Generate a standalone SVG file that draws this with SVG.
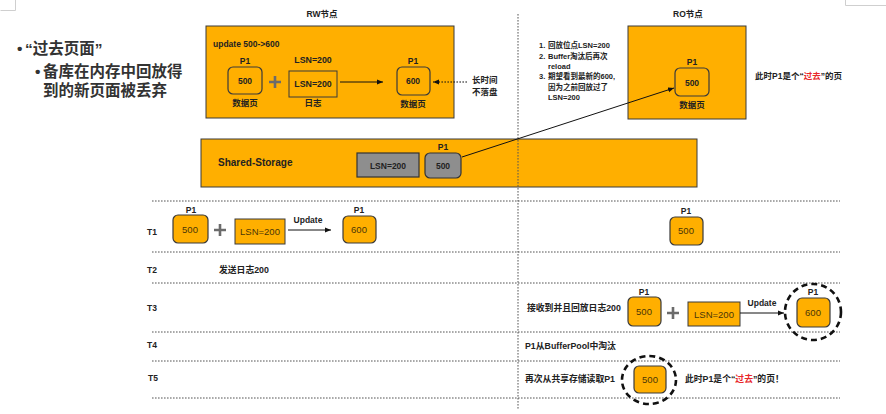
<svg xmlns="http://www.w3.org/2000/svg" width="886" height="414" viewBox="0 0 886 414">
<style>
text{font-family:"Liberation Sans","Noto Sans CJK SC",sans-serif;fill:#222;}
.b{font-weight:bold;}
.c{text-anchor:middle;}
.s8{font-size:8.5px;}
.s9{font-size:8.8px;}
.big{font-size:15.5px;font-weight:bold;fill:#333;}
.red{fill:#e8282b;}
.val{font-size:9.5px;fill:#4a3608;}
.box{fill:#FFAF00;stroke:#3a3a3a;stroke-width:1;}
.pg{fill:#FFAF00;stroke:#3a3a3a;stroke-width:1.2;}
.gray{fill:#8e8e8e;stroke:#333;stroke-width:1.2;}
.plus{stroke:#6b6b6b;stroke-width:2.6;fill:none;}
.arrow{stroke:#111;stroke-width:1;fill:none;marker-end:url(#arr);}
.dot{stroke:#555;stroke-width:1;stroke-dasharray:1.6 1.4;fill:none;}
.ring{stroke:#111;stroke-width:2.6;stroke-dasharray:6 4;fill:none;}
</style>
<defs>
<marker id="arr" viewBox="0 0 10 10" refX="10" refY="5" markerWidth="6" markerHeight="6" orient="auto"><path d="M0,1 L10,5 L0,9 z" fill="#111"/></marker>
</defs>
<rect x="0" y="0" width="886" height="414" fill="#fff"/>
<g id="frame-artifacts" fill="none" stroke="#cfcfcf" stroke-width="1">
<path d="M0.5,10.5 H15.5 V0"/>
<path d="M845.5,0 V5.5 H886"/>
</g>

<g id="bullets">
<text class="big" x="17" y="54" font-size="10">•</text>
<text class="big" x="25" y="54">“过去页面”</text>
<text class="big" x="35" y="77" font-size="10">•</text>
<text class="big" x="43" y="77">备库在内存中回放得</text>
<text class="big" x="43" y="96">到的新页面被丢弃</text>
</g>

<g id="rw-node">
<text class="b s8 c" x="322" y="17">RW节点</text>
<rect class="box" x="206" y="26" width="248" height="92"/>
<text class="b s8" x="213" y="47">update 500-&gt;600</text>
</g>
<g id="rw-page500">
<text class="b s8 c" x="245" y="64">P1</text>
<rect class="pg" x="228" y="67" width="34" height="27" rx="5"/>
<text class="b s8 c" x="245" y="84">500</text>
<text class="b s8 c" x="245" y="106">数据页</text>
</g>
<path class="plus" d="M269,82 H281 M275,76 V88"/>
<g id="rw-log">
<text class="b s9 c" x="313" y="63">LSN=200</text>
<rect class="box" x="289" y="71" width="48" height="26"/>
<text class="b s9 c" x="313" y="87">LSN=200</text>
<text class="b s8 c" x="313" y="106">日志</text>
</g>
<g id="rw-page600">
<text class="b s8 c" x="413" y="64">P1</text>
<rect class="pg" x="397" y="67" width="33" height="28" rx="5"/>
<text class="b s8 c" x="413" y="84">600</text>
<text class="b s8 c" x="413" y="107">数据页</text>
</g>
<g id="note-noflush">
<text class="b s8" x="472" y="83">长时间</text>
<text class="b s8" x="472" y="95">不落盘</text>
</g>

<g id="ro-node">
<text class="b s8 c" x="688" y="17">RO节点</text>
<rect class="box" x="628" y="26" width="118" height="93"/>
</g>
<g id="ro-page500">
<text class="b s8 c" x="692" y="65">P1</text>
<rect class="pg" x="675" y="68" width="34" height="28" rx="5"/>
<text class="b s8 c" x="692" y="86">500</text>
<text class="b s8 c" x="692" y="108">数据页</text>
</g>
<g id="ro-notes" font-size="7.5px">
<text class="b" x="539" y="48" font-size="7.5">1.</text>
<text class="b" x="548" y="48" font-size="7.5">回放位点LSN=200</text>
<text class="b" x="539" y="59" font-size="7.5">2.</text>
<text class="b" x="548" y="59" font-size="7.5">Buffer淘汰后再次</text>
<text class="b" x="548" y="69" font-size="7.5">reload</text>
<text class="b" x="539" y="79" font-size="7.5">3.</text>
<text class="b" x="548" y="79" font-size="7.5">期望看到最新的600,</text>
<text class="b" x="548" y="90" font-size="7.5">因为之前回放过了</text>
<text class="b" x="548" y="100" font-size="7.5">LSN=200</text>
</g>
<g id="ro-past-note">
<text class="b s8" x="755" y="79">此时P1是个“<tspan class="red">过去</tspan>”的页</text>
</g>

<g id="shared-storage">
<rect class="box" x="201" y="139" width="496" height="48" stroke-width="1.2"/>
<text class="b" x="218" y="166" font-size="10">Shared-Storage</text>
</g>
<g id="ss-log">
<rect class="gray" x="357" y="153" width="62" height="24"/>
<text class="b s8 c" x="388" y="169">LSN=200</text>
</g>
<g id="ss-page">
<text class="b s8 c" x="443" y="150">P1</text>
<rect class="gray" x="425" y="153" width="36" height="25" rx="5"/>
<text class="b s8 c" x="443" y="169">500</text>
</g>

<g id="timeline-lines">
<line class="dot" x1="518" y1="14" x2="518" y2="410"/>
<line class="dot" x1="152" y1="201" x2="840" y2="201"/>
<line class="dot" x1="152" y1="252" x2="840" y2="252"/>
<line class="dot" x1="152" y1="283" x2="840" y2="283"/>
<line class="dot" x1="152" y1="332" x2="840" y2="332"/>
<line class="dot" x1="152" y1="361" x2="840" y2="361"/>
<line class="dot" x1="152" y1="398" x2="840" y2="398"/>
</g>
<g id="time-labels">
<text class="b s8" x="147" y="235">T1</text>
<text class="b s8" x="147" y="273">T2</text>
<text class="b s8" x="147" y="311">T3</text>
<text class="b s8" x="147" y="348">T4</text>
<text class="b s8" x="148" y="381">T5</text>
</g>

<g id="t1-page500">
<text class="b s8 c" x="191" y="213">P1</text>
<rect class="pg" x="173" y="215" width="35" height="28" rx="5"/>
<text class="val c" x="190" y="233">500</text>
</g>
<path class="plus" d="M214,230 H226 M220,224 V236"/>
<g id="t1-log">
<rect class="box" x="235" y="219" width="50" height="25"/>
<text class="val c" x="260" y="235">LSN=200</text>
</g>
<text class="b s8 c" x="308" y="223">Update</text>
<g id="t1-page600">
<text class="b s8 c" x="359" y="213">P1</text>
<rect class="pg" x="343" y="216" width="33" height="27" rx="5"/>
<text class="val c" x="359" y="233">600</text>
</g>
<g id="t1-ro-page500">
<text class="b s8 c" x="686" y="214">P1</text>
<rect class="pg" x="670" y="217" width="33" height="28" rx="5"/>
<text class="val c" x="686" y="234">500</text>
</g>

<g id="t2-text"><text class="b s9" x="219" y="273">发送日志200</text></g>

<g id="t3-text"><text class="b s9" x="527" y="311">接收到并且回放日志200</text></g>
<g id="t3-page500">
<text class="b s8 c" x="644" y="295">P1</text>
<rect class="pg" x="628" y="297" width="33" height="29" rx="5"/>
<text class="val c" x="644" y="315">500</text>
</g>
<path class="plus" d="M667,313 H679 M673,307 V319"/>
<g id="t3-log">
<rect class="box" x="688" y="302" width="52" height="24"/>
<text class="val c" x="714" y="318">LSN=200</text>
</g>
<text class="b s8 c" x="762" y="306">Update</text>
<g id="t3-page600">
<circle class="ring" cx="813" cy="312" r="28"/>
<text class="b s8 c" x="813" y="295">P1</text>
<rect class="pg" x="797" y="298" width="33" height="29" rx="5"/>
<text class="val c" x="813" y="316">600</text>
</g>

<g id="t4-text"><text class="b s9" x="525" y="349">P1从BufferPool中淘汰</text></g>

<g id="t5-text"><text class="b s9" x="525" y="382">再次从共享存储读取P1</text></g>
<g id="t5-page500">
<ellipse class="ring" cx="649" cy="380" rx="27" ry="24"/>
<rect class="pg" x="634" y="366" width="32" height="27" rx="5"/>
<text class="val c" x="650" y="383">500</text>
</g>
<g id="t5-note"><text class="b s9" x="685" y="382">此时P1是个“<tspan class="red">过去</tspan>”的页！</text></g>

<g id="connectors">
<line class="arrow" x1="340" y1="82" x2="383" y2="82"/>
<line class="arrow" x1="467" y1="82" x2="433" y2="82" stroke-dasharray="1.6 1.4"/>
<line class="arrow" x1="462" y1="157" x2="674" y2="88"/>
<line class="arrow" x1="288" y1="230" x2="331" y2="230"/>
<line class="arrow" x1="740" y1="313" x2="784" y2="313"/>
</g>
</svg>
